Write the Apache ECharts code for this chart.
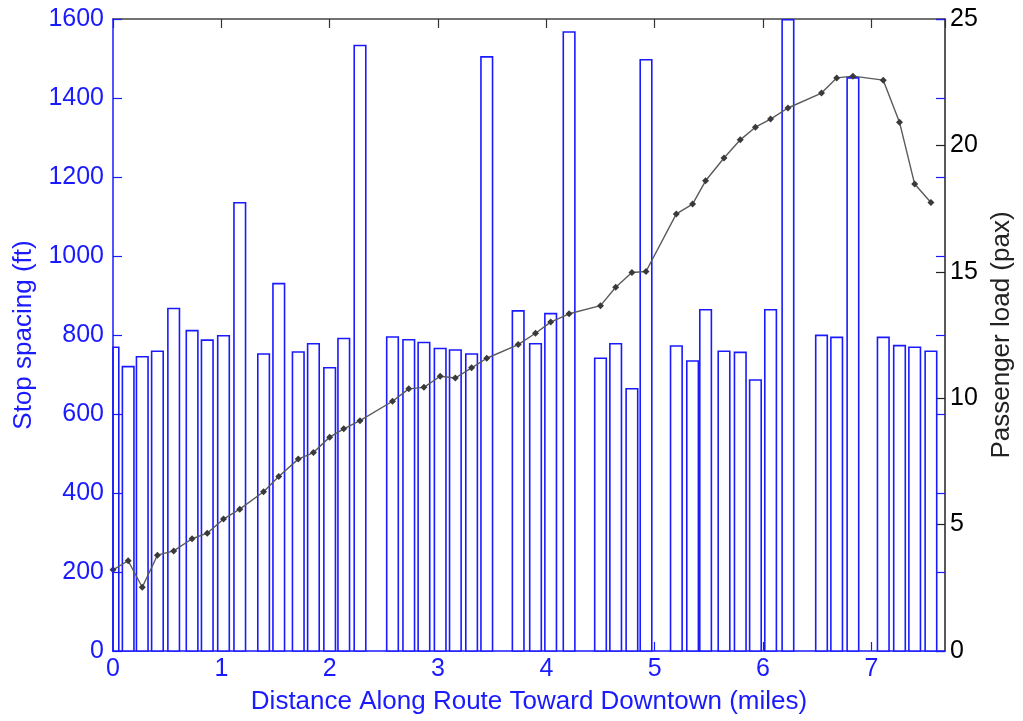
<!DOCTYPE html>
<html>
<head>
<meta charset="utf-8">
<title>Stop spacing and passenger load</title>
<script src="https://cdn.jsdelivr.net/npm/echarts@6/dist/echarts.min.js"></script>
<style>
  html, body { margin: 0; padding: 0; background: #ffffff; }
  #chart { width: 1023px; height: 721px; }
</style>
</head>
<body>
<div id="chart"></div>
<script>
// Stop locations along the route (miles from the start)
const stopMiles = [
  0.00, 0.14, 0.27, 0.41, 0.56, 0.73, 0.87, 1.02, 1.17, 1.39,
  1.53, 1.71, 1.85, 2.00, 2.13, 2.28, 2.58, 2.73, 2.87, 3.02,
  3.16, 3.31, 3.45, 3.74, 3.90, 4.04, 4.21, 4.50, 4.64, 4.79,
  4.92, 5.20, 5.35, 5.47, 5.64, 5.79, 5.93, 6.07, 6.23, 6.54,
  6.68, 6.83, 7.11, 7.26, 7.40, 7.55
];

// Spacing to the next stop (ft)
const stopSpacingFt = [
  769, 720, 745, 759, 867, 811, 787, 798, 1135, 752,
  930, 757, 778, 717, 791, 1533, 795, 788, 781, 766,
  762, 752, 1504, 861, 778, 854, 1567, 741, 778, 664,
  1497, 772, 734, 864, 759, 756, 686, 864, 1598, 799,
  794, 1451, 794, 773, 769, 759
];

// Average passenger load leaving each stop (pax)
const passengerLoad = [
  3.21, 3.57, 2.52, 3.79, 3.96, 4.44, 4.66, 5.22, 5.61, 6.30,
  6.90, 7.59, 7.85, 8.46, 8.79, 9.11, 9.88, 10.37, 10.43, 10.87,
  10.80, 11.20, 11.58, 12.12, 12.57, 13.01, 13.34, 13.66, 14.39, 14.97,
  15.01, 17.29, 17.68, 18.60, 19.50, 20.22, 20.72, 21.04, 21.48, 22.07,
  22.67, 22.74, 22.58, 20.92, 18.47, 17.74
];

// Axis ranges and tick steps
const distanceRange = [0, 7.68];
const distanceStep = 1;
const spacingRange = [0, 1600];
const spacingStep = 200;
const loadRange = [0, 25];
const loadStep = 5;

const BLUE = '#1a1aff';
const DARK = '#222222';
const FONT = '"Liberation Sans", Arial, Helvetica, sans-serif';
const BAR_WIDTH_MI = 0.107;

const chart = echarts.init(document.getElementById('chart'), null, { renderer: 'canvas' });

function renderBar(params, api) {
  const x = api.value(0);
  const h = api.value(1);
  const topLeft = api.coord([x - BAR_WIDTH_MI / 2, h]);
  const bottomRight = api.coord([x + BAR_WIDTH_MI / 2, 0]);
  const cs = params.coordSys;
  const shape = echarts.graphic.clipRectByRect(
    { x: topLeft[0], y: topLeft[1], width: bottomRight[0] - topLeft[0], height: bottomRight[1] - topLeft[1] },
    { x: cs.x, y: cs.y, width: cs.width, height: cs.height }
  );
  return shape && {
    type: 'rect',
    shape: shape,
    style: { fill: '#ffffff', stroke: BLUE, lineWidth: 1.6 }
  };
}

const plainNumber = (v) => String(v);
const plotRect = { left: 113, top: 19, right: 78, bottom: 70, containLabel: false, outerBoundsMode: 'none' };

const option = {
  backgroundColor: '#ffffff',
  animation: false,
  // grid 0: bars and line; grid 1: same rectangle, carries the spacing ticks on the right edge
  grid: [Object.assign({}, plotRect), Object.assign({}, plotRect)],
  xAxis: [
    {
      type: 'value', position: 'bottom', gridIndex: 0,
      min: distanceRange[0], max: distanceRange[1], interval: distanceStep,
      name: 'Distance Along Route Toward Downtown (miles)',
      nameLocation: 'middle', nameGap: 38,
      nameTextStyle: { color: BLUE, fontSize: 26, fontFamily: FONT },
      axisLine: { show: true, onZero: false, lineStyle: { color: BLUE, width: 1.5 } },
      axisTick: { show: true, inside: true, length: 9, lineStyle: { color: BLUE, width: 1.2 } },
      axisLabel: { color: BLUE, fontSize: 25, fontFamily: FONT, margin: 6, showMaxLabel: false, formatter: plainNumber },
      splitLine: { show: false }
    },
    {
      type: 'value', position: 'top', gridIndex: 0,
      min: distanceRange[0], max: distanceRange[1], interval: distanceStep,
      axisLine: { show: true, onZero: false, lineStyle: { color: '#444444', width: 1.5 } },
      axisTick: { show: true, inside: true, length: 9, lineStyle: { color: '#333333', width: 1.2 } },
      axisLabel: { show: false },
      splitLine: { show: false }
    },
    {
      type: 'value', position: 'bottom', gridIndex: 1, show: false,
      min: distanceRange[0], max: distanceRange[1],
      axisLine: { onZero: false }
    }
  ],
  yAxis: [
    {
      type: 'value', position: 'left', gridIndex: 0, z: 5,
      min: spacingRange[0], max: spacingRange[1], interval: spacingStep,
      name: 'Stop spacing (ft)',
      nameLocation: 'middle', nameGap: 76,
      nameTextStyle: { color: BLUE, fontSize: 26, fontFamily: FONT },
      axisLine: { show: true, onZero: false, lineStyle: { color: BLUE, width: 1.5 } },
      axisTick: { show: true, inside: true, length: 9, lineStyle: { color: BLUE, width: 1.2 } },
      axisLabel: { color: BLUE, fontSize: 25, fontFamily: FONT, margin: 9, formatter: plainNumber },
      splitLine: { show: false }
    },
    {
      type: 'value', position: 'right', gridIndex: 0,
      min: loadRange[0], max: loadRange[1], interval: loadStep,
      name: 'Passenger load (pax)',
      nameLocation: 'middle', nameGap: 42,
      nameTextStyle: { color: DARK, fontSize: 26, fontFamily: FONT },
      axisLine: { show: true, onZero: false, lineStyle: { color: DARK, width: 1.5 } },
      axisTick: { show: true, inside: true, length: 9, lineStyle: { color: DARK, width: 1.2 } },
      axisLabel: { color: '#000000', fontSize: 25, fontFamily: FONT, margin: 5, formatter: plainNumber },
      splitLine: { show: false }
    },
    {
      type: 'value', position: 'right', gridIndex: 1,
      min: spacingRange[0], max: spacingRange[1], interval: spacingStep,
      axisLine: { show: false, onZero: false },
      axisTick: { show: true, inside: true, length: 9, lineStyle: { color: BLUE, width: 1.2 } },
      axisLabel: { show: false },
      splitLine: { show: false }
    }
  ],
  series: [
    {
      name: 'Stop spacing',
      type: 'custom',
      xAxisIndex: 0,
      yAxisIndex: 0,
      z: 2,
      renderItem: renderBar,
      encode: { x: 0, y: 1 },
      data: stopMiles.map((m, i) => [m, stopSpacingFt[i]])
    },
    {
      name: 'Passenger load',
      type: 'line',
      xAxisIndex: 0,
      yAxisIndex: 1,
      z: 4,
      symbol: 'diamond',
      symbolSize: 7,
      showSymbol: true,
      lineStyle: { color: '#5a5a5a', width: 1.4 },
      itemStyle: { color: '#3a3a3a' },
      data: stopMiles.map((m, i) => [m, passengerLoad[i]])
    }
  ]
};

chart.setOption(option);
</script>
</body>
</html>
